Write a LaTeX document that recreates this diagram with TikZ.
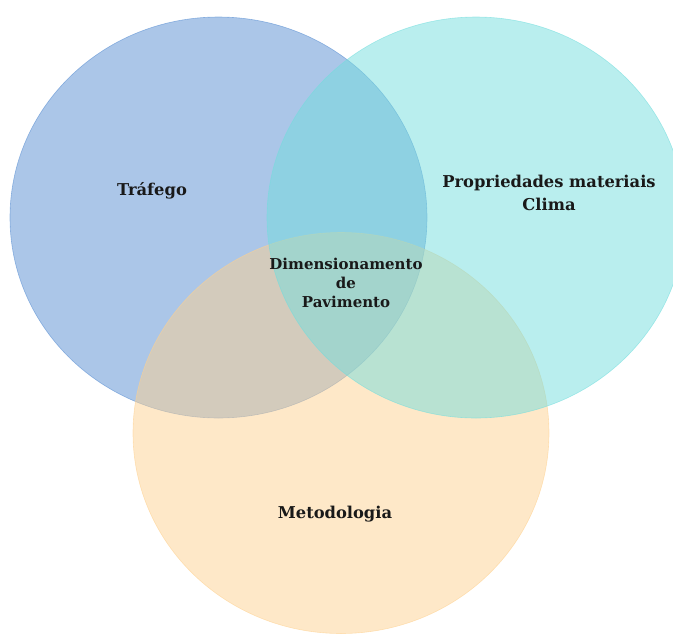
\documentclass[tikz,border=0pt]{standalone}
\usepackage{fontspec}
\setmainfont{DejaVu Serif}
\begin{document}
\begin{tikzpicture}[x=1pt,y=-1pt,
  venn/.style={line width=0.6pt, fill opacity=0.5, draw opacity=0.6},
  lbl/.style={font=\bfseries\fontsize{16.3}{23}\selectfont, align=center, text=black!90},
  lblsmall/.style={font=\bfseries\fontsize{15}{19}\selectfont, align=center, text=black!90}]
\useasboundingbox (0,0) rectangle (673,633);
\begin{scope}
\clip (0,0) rectangle (673,633);
\path[venn, fill={rgb,255:red,87;green,141;blue,209}, draw={rgb,255:red,87;green,141;blue,209}]
  (218.5,217.5) ellipse [x radius=208.5, y radius=200.5];
\path[venn, fill={rgb,255:red,253;green,209;blue,145}, draw={rgb,255:red,253;green,209;blue,145}]
  (341,433) ellipse [x radius=208, y radius=200.5];
\path[venn, fill={rgb,255:red,115;green,221;blue,221}, draw={rgb,255:red,115;green,221;blue,221}]
  (476,217.5) ellipse [x radius=209, y radius=200.5];
\end{scope}
\node[lbl] (traf) at (152,191) {Tráfego};
\node[lbl] (prop) at (549,192.5) {Propriedades materiais\\Clima};
\node[lblsmall] (dim) at (346,283) {Dimensionamento\\de\\Pavimento};
\node[lbl] (met) at (335,514) {Metodologia};
\end{tikzpicture}
\end{document}
